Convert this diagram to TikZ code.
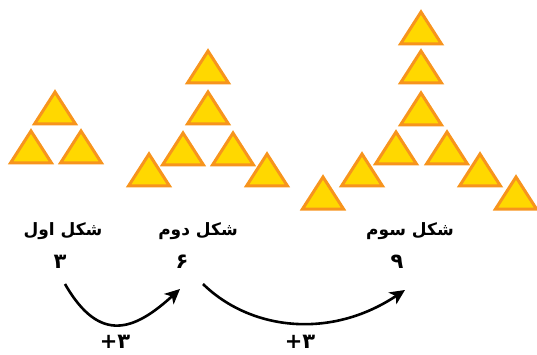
\documentclass[tikz,border=0pt]{standalone}
\usepackage{fontspec}
\usetikzlibrary{arrows.meta}
\TeXXeTstate=1
\newfontfamily\fa[Script=Arabic,BoldFont={DejaVu Sans Bold}]{DejaVu Sans}
\definecolor{trifill}{HTML}{FFD800}
\definecolor{tristroke}{HTML}{F7941D}
\newcommand{\tri}[2]{\draw[tri] ({#1-20.5},#2) -- (#1,{#2-32}) -- ({#1+20.5},#2) -- cycle;}
\begin{document}
\begin{tikzpicture}[x=1pt,y=-1pt,
  tri/.style={fill=trifill,draw=tristroke,line width=3pt,line join=miter},
  lbl/.style={font=\fa\bfseries\fontsize{17}{19}\selectfont,inner sep=0pt},
  num/.style={font=\fa\bfseries\fontsize{21}{23}\selectfont,inner sep=0pt},
  arr/.style={line width=2.6pt,-{Stealth[length=15pt,width=14pt,inset=4pt]}}]
\path[use as bounding box] (0,0) rectangle (537,355);
% figure 1
\tri{55}{124}\tri{31}{163}\tri{81}{163}
% figure 2
\tri{208}{83}\tri{208}{124}\tri{183}{165}\tri{233}{165}\tri{149}{186}\tri{267}{186}
% figure 3
\tri{421}{44}\tri{421}{83}\tri{421}{125}\tri{396}{164}\tri{447}{164}
\tri{362}{186}\tri{480}{186}\tri{323}{209}\tri{516}{209}
% labels
\node[lbl] (t1) at (63,231) {\beginR شکل اول\endR};
\node[lbl] (t2) at (198,231) {\beginR شکل دوم\endR};
\node[lbl] (t3) at (410,231) {\beginR شکل سوم\endR};
\node[num] (n1) at (60,262) {۳};
\node[num] (n2) at (182,262) {۶};
\node[num] (n3) at (397,262) {۹};
\node[num] (p1) at (115,342) {۳+};
\node[num] (p2) at (300,342) {۳+};
% arrows
\coordinate (a1s) at (65,284);
\coordinate (a1e) at (180,289);
\coordinate (a2s) at (203,284);
\coordinate (a2e) at (405,290);
\draw[arr] (a1s) .. controls (100,345) and (135,330) .. (a1e);
\draw[arr] (a2s) .. controls (250,330) and (330,340) .. (a2e);
\end{tikzpicture}
\end{document}
